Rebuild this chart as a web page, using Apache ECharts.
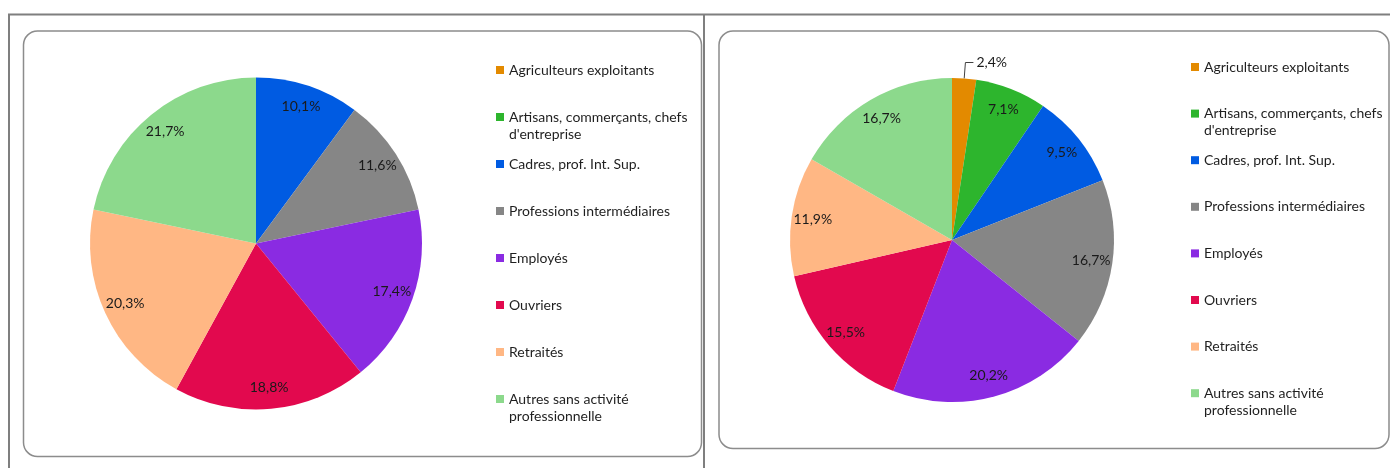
<!DOCTYPE html>
<html>
<head>
<meta charset="utf-8">
<script src="https://cdn.jsdelivr.net/npm/echarts@6/dist/echarts.min.js"></script>
<style>
  html, body { margin: 0; padding: 0; background: #fff; }
  #chart { width: 1390px; height: 468px; }
</style>
</head>
<body>
<div id="chart"></div>
<script>
// Socio-professional categories (legend order)
const categories = [
  'Agriculteurs exploitants',
  'Artisans, commerçants, chefs d\'entreprise',
  'Cadres, prof. Int. Sup.',
  'Professions intermédiaires',
  'Employés',
  'Ouvriers',
  'Retraités',
  'Autres sans activité professionnelle'
];
// Legend wording, wrapped as in the chart
const legendLabels = [
  'Agriculteurs exploitants',
  'Artisans, commerçants, chefs\nd\'entreprise',
  'Cadres, prof. Int. Sup.',
  'Professions intermédiaires',
  'Employés',
  'Ouvriers',
  'Retraités',
  'Autres sans activité\nprofessionnelle'
];
// Shares in percent
const leftValues  = [0, 0, 10.1, 11.6, 17.4, 18.8, 20.3, 21.7];
const rightValues = [2.4, 7.1, 9.5, 16.7, 20.2, 15.5, 11.9, 16.7];

const colors = ['#E38A00', '#2DB52D', '#005BE2', '#868686', '#8A2BE2', '#E2094E', '#FFB784', '#8CD98C'];

const FONT = 'Lato, "Open Sans", sans-serif';
const LINE_H = 17;

function pct(v) { return v.toFixed(1).replace('.', ',') + '%'; }

function mainSeries(values, center, radius) {
  return {
    type: 'pie',
    center: center,
    radius: radius,
    startAngle: 90,
    clockwise: true,
    silent: true,
    avoidLabelOverlap: false,
    label: { show: false },
    labelLine: { show: false },
    emphasis: { disabled: true },
    data: categories.map((name, i) => ({
      name: name, value: values[i], itemStyle: { color: colors[i] }
    }))
  };
}

// Transparent ring carrying the percentage labels a bit toward the rim
function labelSeries(values, center, radius) {
  return {
    type: 'pie',
    center: center,
    radius: [radius * 0.7, radius],
    startAngle: 90,
    clockwise: true,
    silent: true,
    avoidLabelOverlap: false,
    emphasis: { disabled: true },
    itemStyle: { color: 'rgba(0,0,0,0)' },
    label: {
      show: true,
      position: 'inside',
      color: '#1a1a1a',
      fontFamily: FONT,
      fontSize: 14,
      formatter: p => pct(p.value)
    },
    labelLine: { show: false },
    data: categories.map((name, i) => {
      const v = values[i];
      const item = { name: name, value: v };
      if (v === 0) {
        item.label = { show: false };
      } else if (v < 5) {
        item.label = { show: true, position: 'outside', distanceToLabelLine: 3 };
        item.labelLine = { show: true, length: 16, length2: 8, lineStyle: { color: '#404040', width: 1 } };
      }
      return item;
    })
  };
}

// Each legend entry occupies three text lines: wrapped entries get a blank
// leading line so their first line sits beside the swatch.
function legend(left, top, gap) {
  return {
    orient: 'vertical',
    left: left,
    top: top,
    padding: 0,
    itemGap: gap,
    itemWidth: 8,
    itemHeight: 8,
    icon: 'rect',
    selectedMode: false,
    textStyle: { fontFamily: FONT, fontSize: 14, color: '#1f1f1f', lineHeight: LINE_H },
    data: categories.map((name, i) => {
      const twoLines = legendLabels[i].indexOf('\n') >= 0;
      return {
        name: name,
        textStyle: { padding: twoLines ? 0 : [LINE_H, 0, LINE_H, 0] }
      };
    }),
    formatter: name => {
      const t = legendLabels[categories.indexOf(name)];
      return t.indexOf('\n') >= 0 ? ' \n' + t : t;
    }
  };
}

const frameColor = '#7f7f7f';
const boxColor = '#8c8c8c';

const option = {
  animation: false,
  graphic: [
    { type: 'line', z: -1, shape: { x1: 8, y1: 14.5, x2: 1390, y2: 14.5 }, style: { stroke: frameColor, lineWidth: 2 } },
    { type: 'line', z: -1, shape: { x1: 9, y1: 14, x2: 9, y2: 468 }, style: { stroke: frameColor, lineWidth: 2 } },
    { type: 'line', z: -1, shape: { x1: 704, y1: 14, x2: 704, y2: 468 }, style: { stroke: frameColor, lineWidth: 2 } },
    { type: 'rect', z: -1, shape: { x: 23.5, y: 31, width: 678, height: 425.5, r: 14 },
      style: { fill: 'none', stroke: boxColor, lineWidth: 1.5 } },
    { type: 'rect', z: -1, shape: { x: 719, y: 31, width: 670, height: 417.5, r: 14 },
      style: { fill: 'none', stroke: boxColor, lineWidth: 1.5 } }
  ],
  legend: [
    legend(496, 70 - 25.5, -4),
    legend(1191, 67 - 25.5, -4.4)
  ],
  series: [
    mainSeries(leftValues, [256, 243.5], 166),
    labelSeries(leftValues, [256, 243.5], 166),
    mainSeries(rightValues, [952, 240], 162),
    labelSeries(rightValues, [952, 240], 162)
  ]
};

const chart = echarts.init(document.getElementById('chart'), null, { renderer: 'canvas' });
chart.setOption(option);
</script>
</body>
</html>
